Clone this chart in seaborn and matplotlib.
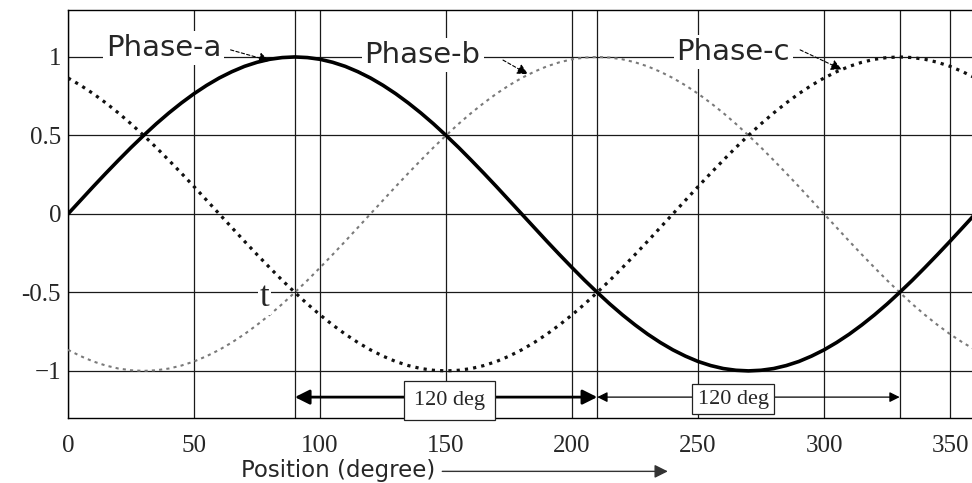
import matplotlib
matplotlib.use("Agg")
import matplotlib.pyplot as plt
import seaborn as sns
import pandas as pd

# ---------------- data ----------------
position = list(range(0, 361, 5))  # degrees

phase_a = [0, .087, .174, .259, .342, .423, .5, .574, .643, .707, .766, .819,
           .866, .906, .940, .966, .985, .996, 1.0, .996, .985, .966, .940, .906,
           .866, .819, .766, .707, .643, .574, .5, .423, .342, .259, .174, .087,
           0, -.087, -.174, -.259, -.342, -.423, -.5, -.574, -.643, -.707, -.766, -.819,
           -.866, -.906, -.940, -.966, -.985, -.996, -1.0, -.996, -.985, -.966, -.940, -.906,
           -.866, -.819, -.766, -.707, -.643, -.574, -.5, -.423, -.342, -.259, -.174, -.087,
           0]

phase_b = [-.866, -.906, -.940, -.966, -.985, -.996, -1.0, -.996, -.985, -.966, -.940, -.906,
           -.866, -.819, -.766, -.707, -.643, -.574, -.5, -.423, -.342, -.259, -.174, -.087,
           0, .087, .174, .259, .342, .423, .5, .574, .643, .707, .766, .819,
           .866, .906, .940, .966, .985, .996, 1.0, .996, .985, .966, .940, .906,
           .866, .819, .766, .707, .643, .574, .5, .423, .342, .259, .174, .087,
           0, -.087, -.174, -.259, -.342, -.423, -.5, -.574, -.643, -.707, -.766, -.819,
           -.866]

phase_c = [.866, .819, .766, .707, .643, .574, .5, .423, .342, .259, .174, .087,
           0, -.087, -.174, -.259, -.342, -.423, -.5, -.574, -.643, -.707, -.766, -.819,
           -.866, -.906, -.940, -.966, -.985, -.996, -1.0, -.996, -.985, -.966, -.940, -.906,
           -.866, -.819, -.766, -.707, -.643, -.574, -.5, -.423, -.342, -.259, -.174, -.087,
           0, .087, .174, .259, .342, .423, .5, .574, .643, .707, .766, .819,
           .866, .906, .940, .966, .985, .996, 1.0, .996, .985, .966, .940, .906,
           .866]

series_names = ["Phase-a", "Phase-b", "Phase-c"]
x_ticks = [0, 50, 100, 150, 200, 250, 300, 350]
x_tick_labels = ["0", "50", "100", "150", "200", "250", "300", "350"]
x_extra_grid = [90, 210, 330]
y_ticks = [-1, -0.5, 0, 0.5, 1]
y_tick_labels = ["\u22121", "-0.5", "0", "0.5", "1"]
spans = [(90, 210), (210, 330)]
span_label = "120 deg"
x_label = "Position (degree)"
point_label = "t"

# ---------------- figure ----------------
sns.set_style("white")
plt.rcParams["font.family"] = ["DejaVu Sans"]

fig = plt.figure(figsize=(9.72, 4.83), dpi=100)
ax = fig.add_axes([0.07, 0.1346, 0.93, 0.845])

df = pd.DataFrame({"position": position,
                   series_names[0]: phase_a,
                   series_names[1]: phase_b,
                   series_names[2]: phase_c})

sns.lineplot(data=df, x="position", y=series_names[1], ax=ax,
             color="#7a7a7a", linewidth=1.5, linestyle=(0, (1.5, 2.0)), zorder=3)
sns.lineplot(data=df, x="position", y=series_names[2], ax=ax,
             color="#111111", linewidth=2.3, linestyle=(0, (1, 1.6)), zorder=3)
sns.lineplot(data=df, x="position", y=series_names[0], ax=ax,
             color="black", linewidth=2.6, zorder=4)

ax.set_xlim(0, 358.7)
ax.set_ylim(-1.3, 1.3)
ax.set_xticks(x_ticks)
ax.set_xticklabels(x_tick_labels)
ax.set_xticks(x_extra_grid, minor=True)
ax.set_yticks(y_ticks)
ax.set_yticklabels(y_tick_labels)
ax.set_ylabel("")
ax.set_axisbelow(True)
ax.grid(True, which="major", axis="both", color="#1a1a1a", linewidth=0.9)
ax.grid(True, which="minor", axis="x", color="#1a1a1a", linewidth=0.9)
ax.tick_params(axis="both", which="both", length=0)
ax.tick_params(axis="x", pad=12, labelsize=18)
ax.tick_params(axis="y", pad=5, labelsize=18)
for lbl in ax.get_xticklabels() + ax.get_yticklabels():
    lbl.set_fontfamily("Liberation Serif")

for s in ["left", "bottom", "top"]:
    ax.spines[s].set_visible(True)
    ax.spines[s].set_color("black")
    ax.spines[s].set_linewidth(1.0)
ax.spines["right"].set_visible(False)

# x label with arrow
ax.set_xlabel(x_label, fontsize=16.5, family="DejaVu Sans")
ax.xaxis.set_label_coords(0.299, -0.100)
ax.annotate("", xy=(238, -1.64), xytext=(148.5, -1.64), annotation_clip=False,
            arrowprops=dict(arrowstyle="-|>", lw=1.0, color="#333333",
                            mutation_scale=20, shrinkA=0, shrinkB=0))

# phase labels with leaders
label_pos = [(37.9, 1.006), (140.7, 0.962), (264.0, 0.981)]
leader_start = [(64.5, 1.045), (172.6, 0.98), (290.5, 1.045)]
leader_end = [(80.0, 0.975), (182.5, 0.89), (307.0, 0.92)]
for name, (lx, ly), st, en in zip(series_names, label_pos, leader_start, leader_end):
    ax.text(lx, ly, name, ha="center", va="baseline", fontsize=21,
            bbox=dict(fc="white", ec="none", pad=2), zorder=5)
    ax.annotate("", xy=en, xytext=st, zorder=6,
                arrowprops=dict(arrowstyle="-|>", lw=0.8, color="black",
                                linestyle=(0, (3, 2)), mutation_scale=16,
                                shrinkA=0, shrinkB=0))

ax.text(78, -0.53, point_label, ha="center", va="center", fontsize=25,
        family="Liberation Serif", bbox=dict(fc="white", ec="none", pad=1), zorder=5)

# 120 degree spans
span_styles = [dict(lw=2.0, mutation_scale=22), dict(lw=0.9, mutation_scale=15)]
box_pos = [(151.4, -1.19), (264.0, -1.18)]
box_pads = [0.45, 0.25]
for (s0, s1), st, (bx, by), bp in zip(spans, span_styles, box_pos, box_pads):
    ax.annotate("", xy=(s1, -1.167), xytext=(s0, -1.167), annotation_clip=False,
                arrowprops=dict(arrowstyle="<|-|>", color="black",
                                shrinkA=0, shrinkB=0, **st), zorder=5)
    ax.text(bx, by, span_label, ha="center", va="center", fontsize=16,
            family="Liberation Serif", clip_on=False, zorder=6,
            bbox=dict(boxstyle=f"square,pad={bp}", fc="white", ec="#222222", lw=0.9))

fig.savefig("out.png", dpi=100)
